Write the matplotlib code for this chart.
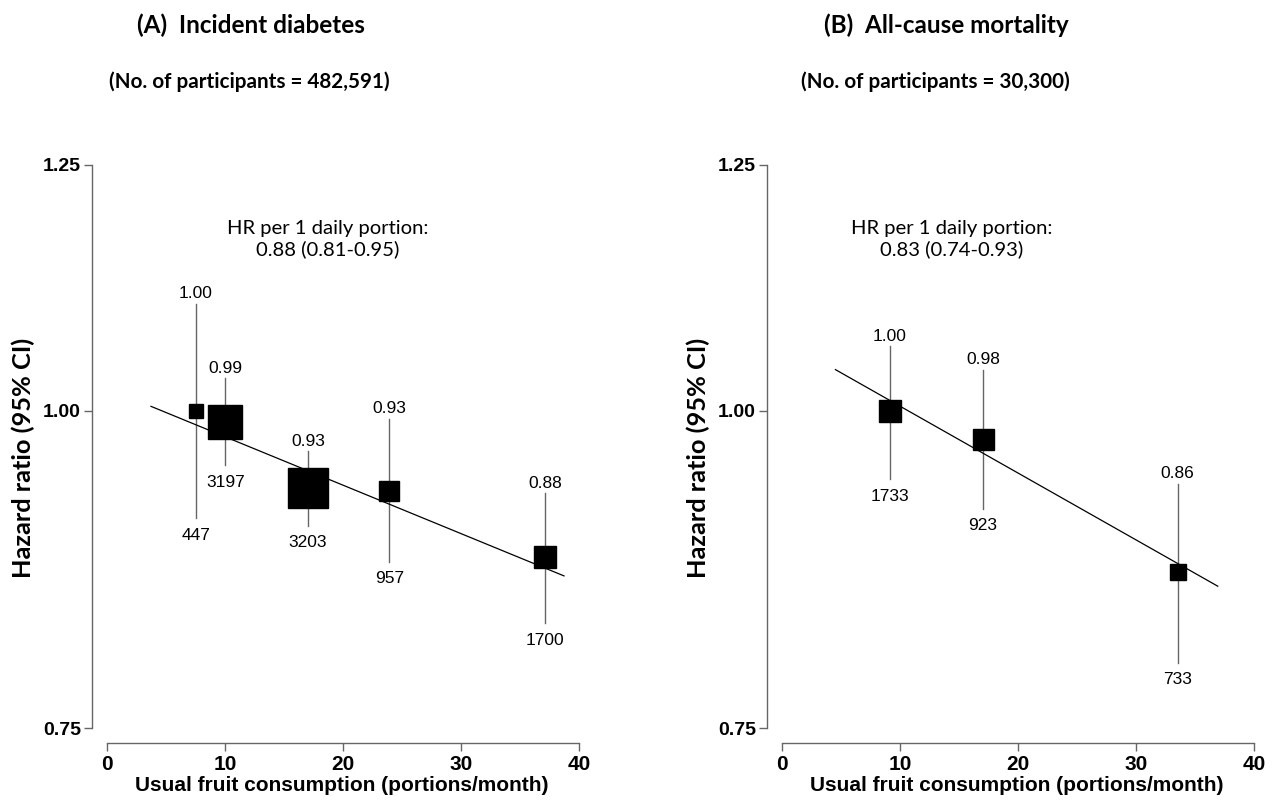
import numpy as np
import matplotlib
matplotlib.use("Agg")
import matplotlib.pyplot as plt
from matplotlib.ticker import FixedLocator, FixedFormatter, NullLocator

# ---------------- data ----------------
# Panel A: incident diabetes
a_x = [7.5, 10.0, 17.0, 23.9, 37.1]            # usual fruit consumption (portions/month)
a_hr = [1.00, 0.990, 0.932, 0.930, 0.876]
a_lo = [0.907, 0.952, 0.901, 0.872, 0.825]
a_hi = [1.102, 1.030, 0.964, 0.993, 0.928]
a_hr_labels = ["1.00", "0.99", "0.93", "0.93", "0.88"]
a_cases = ["447", "3197", "3203", "957", "1700"]
a_weight = [14, 34, 40, 20, 22]                  # relative box size (precision)
a_trend_x = [3.7, 38.7]
a_trend_hr = [1.004, 0.861]

# Panel B: all-cause mortality
b_x = [9.1, 17.0, 33.5]
b_hr = [1.00, 0.975, 0.864]
b_lo = [0.940, 0.915, 0.796]
b_hi = [1.060, 1.038, 0.936]
b_hr_labels = ["1.00", "0.98", "0.86"]
b_cases = ["1733", "923", "733"]
b_weight = [23, 21, 16]
b_trend_x = [4.5, 36.9]
b_trend_hr = [1.038, 0.853]

panel_titles = ["(A)  Incident diabetes", "(B)  All-cause mortality"]
panel_subtitles = ["(No. of participants = 482,591)", "(No. of participants = 30,300)"]
hr_texts = ["HR per 1 daily portion:\n0.88 (0.81-0.95)", "HR per 1 daily portion:\n0.83 (0.74-0.93)"]

y_ticks = [0.75, 1.00, 1.25]
y_ticklabels = ["0.75", "1.00", "1.25"]
x_ticks = [0, 10, 20, 30, 40]
x_ticklabels = ["0", "10", "20", "30", "40"]

# ---------------- figure ----------------
W, H = 1283, 800
fig = plt.figure(figsize=(W / 100, H / 100), dpi=100)

ARIAL = ["Liberation Sans", "DejaVu Sans"]
CAL = ["Lato", "DejaVu Sans"]
GREY = "#666666"

xmin, xmax = -1.3, 41.0
ymin, ymax = 0.740, 1.262
bottom_px = 743
top_px = 154
ax_w_px = (xmax - xmin) * 11.8
ax_h_px = bottom_px - top_px

panels = [
    dict(x=a_x, hr=a_hr, lo=a_lo, hi=a_hi, hl=a_hr_labels, cases=a_cases, w=a_weight,
         tx=a_trend_x, ty=a_trend_hr, left_px=92, title_cx=251, sub_cx=249, hr_cx=328),
    dict(x=b_x, hr=b_hr, lo=b_lo, hi=b_hi, hl=b_hr_labels, cases=b_cases, w=b_weight,
         tx=b_trend_x, ty=b_trend_hr, left_px=767, title_cx=946, sub_cx=935, hr_cx=952),
]

for i, p in enumerate(panels):
    ax = fig.add_axes([p["left_px"] / W, 1 - bottom_px / H, ax_w_px / W, ax_h_px / H])
    ax.set_yscale("log")
    ax.set_xlim(xmin, xmax)
    ax.set_ylim(ymin, ymax)
    for s in ["top", "right"]:
        ax.spines[s].set_visible(False)
    ax.spines["left"].set_bounds(0.75, 1.25)
    ax.spines["bottom"].set_bounds(0, 40)
    for s in ["left", "bottom"]:
        ax.spines[s].set_color(GREY)
        ax.spines[s].set_linewidth(1.0)
    ax.yaxis.set_major_locator(FixedLocator(y_ticks))
    ax.yaxis.set_major_formatter(FixedFormatter(y_ticklabels))
    ax.yaxis.set_minor_locator(NullLocator())
    ax.set_xticks(x_ticks)
    ax.set_xticklabels(x_ticklabels)
    ax.tick_params(axis="both", direction="out", length=6, width=1.0, color=GREY)
    ax.tick_params(axis="x", pad=3)
    ax.tick_params(axis="y", pad=2)
    for lab in ax.get_xticklabels():
        lab.set_fontfamily(ARIAL)
        lab.set_fontweight("bold")
        lab.set_fontsize(15)
    for lab in ax.get_yticklabels():
        lab.set_fontfamily(ARIAL)
        lab.set_fontweight("bold")
        lab.set_fontsize(14)
    ax.set_xlabel("Usual fruit consumption (portions/month)", fontfamily=ARIAL,
                  fontweight="bold", fontsize=15, labelpad=1)
    ax.set_ylabel("Hazard ratio (95% CI)", fontfamily=CAL, fontweight="bold",
                  fontsize=18.3)
    ax.yaxis.set_label_coords(-57 / ax_w_px, (bottom_px - 458) / ax_h_px)

    # regression line
    ax.plot(p["tx"], p["ty"], color="black", lw=0.9, zorder=2)
    # CIs, boxes and labels
    for xi, hri, lo, hi, hl, cs, wt in zip(p["x"], p["hr"], p["lo"], p["hi"], p["hl"], p["cases"], p["w"]):
        ax.plot([xi, xi], [lo, hi], color=GREY, lw=1.0, zorder=1)
        ax.plot([xi], [hri], marker="s", ms=wt * 0.72, color="black", mec="black", zorder=3)
        ax.annotate(hl, (xi, hi), xytext=(0, 3.8), textcoords="offset points",
                    ha="center", va="baseline", fontsize=12.5, fontfamily=ARIAL)
        ax.annotate(cs, (xi, lo), xytext=(0, -15.5), textcoords="offset points",
                    ha="center", va="baseline", fontsize=12.5, fontfamily=ARIAL)

    fig.text(p["title_cx"] / W, 1 - 25 / H, panel_titles[i], ha="center", va="center",
             fontfamily=CAL, fontweight="bold", fontsize=17.5)
    fig.text(p["sub_cx"] / W, 1 - 82 / H, panel_subtitles[i], ha="center", va="center",
             fontfamily=CAL, fontweight="bold", fontsize=14.9)
    fig.text(p["hr_cx"] / W, 1 - 239 / H, hr_texts[i], ha="center", va="center",
             fontfamily=CAL, fontsize=14.6, linespacing=1.25)

fig.savefig("out.png", dpi=100)
